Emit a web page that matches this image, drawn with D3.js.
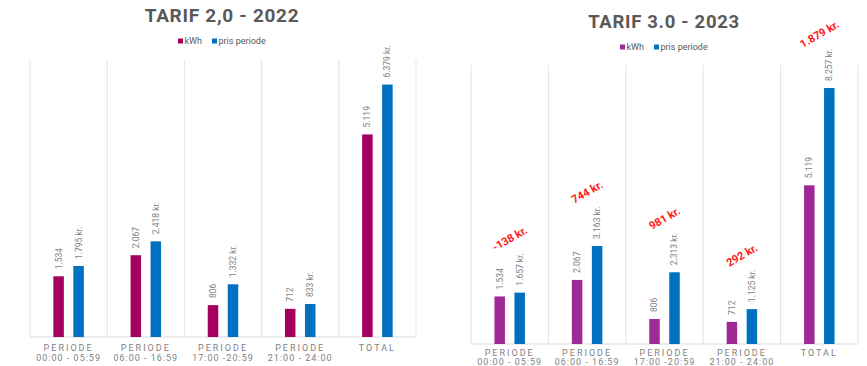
<!DOCTYPE html>
<html>
<head>
<meta charset="utf-8">
<script src="https://cdn.jsdelivr.net/npm/d3@7"></script>
<style>
  body { margin: 0; background: #fff; }
  svg { display: block; font-family: Roboto, "Liberation Sans", sans-serif; }
</style>
</head>
<body>
<div id="chart"></div>
<script>
// category tick labels (two lines each)
var categoryLines = [
    ["PERIODE", "00:00 - 05:59"],
    ["PERIODE", "06:00 - 16:59"],
    ["PERIODE", "17:00 -20:59"],
    ["PERIODE", "21:00 - 24:00"],
    ["TOTAL", ""]
];
var seriesNames = ["kWh", "pris periode"];

// Tarif 2,0 - 2022
var kwh2022 = [1534, 2067, 806, 712, 5119];
var pris2022 = [1795, 2418, 1332, 833, 6379];

// Tarif 3.0 - 2023
var kwh2023 = [1534, 2067, 806, 712, 5119];
var pris2023 = [1657, 3163, 2313, 1125, 8257];
var diff2023 = [-138, 744, 981, 292, 1879];

var dk = d3.formatLocale({decimal: ",", thousands: ".", grouping: [3], currency: ["", " kr."], minus: "-"});
var fmt = dk.format(",d");

var svg = d3.select("#chart")
    .append("svg")
    .attr("width", 867)
    .attr("height", 366);

function drawChart(opt) {
    var g = svg.append("g");

    var x = d3.scaleBand()
        .domain(d3.range(categoryLines.length))
        .range([opt.left, opt.right])
        .padding(0);

    var x1 = d3.scaleBand()
        .domain(seriesNames)
        .range([-15.25, 15.25])
        .paddingInner(0.475);

    var y = d3.scaleLinear()
        .domain([0, opt.yMax])
        .range([opt.bottom, opt.top]);

    // title
    g.append("text")
        .attr("x", opt.titleX)
        .attr("y", opt.titleY)
        .attr("text-anchor", "middle")
        .attr("font-size", opt.titleSize)
        .attr("font-weight", "bold")
        .attr("letter-spacing", "0.7px")
        .attr("fill", "#595959")
        .text(opt.title);

    // legend
    var legendX = [opt.titleX - 44, opt.titleX - 10];
    var legend = g.selectAll(".legend")
        .data(seriesNames)
        .enter()
        .append("g")
        .attr("transform", function (d, i) { return "translate(" + legendX[i] + "," + opt.legendY + ")"; });
    legend.append("rect")
        .attr("x", 0).attr("y", -2.5)
        .attr("width", 5).attr("height", 5)
        .attr("fill", function (d, i) { return opt.colors[i]; });
    legend.append("text")
        .attr("x", 6.5)
        .attr("dy", "0.35em")
        .attr("font-size", 9)
        .attr("fill", "#595959")
        .text(function (d) { return d; });

    // vertical gridlines at category borders
    var borders = d3.range(categoryLines.length + 1).map(function (i) {
        return i < categoryLines.length ? x(i) : opt.right;
    });
    g.selectAll(".grid")
        .data(borders)
        .enter()
        .append("line")
        .attr("x1", function (d) { return d; })
        .attr("x2", function (d) { return d; })
        .attr("y1", opt.top)
        .attr("y2", opt.bottom)
        .attr("stroke", "#e3e3e3")
        .attr("stroke-width", 1);

    // baseline
    g.append("line")
        .attr("x1", opt.left).attr("x2", opt.right)
        .attr("y1", opt.bottom).attr("y2", opt.bottom)
        .attr("stroke", "#d9d9d9");

    var rows = categoryLines.map(function (c, i) {
        return {i: i, kwh: opt.kwh[i], pris: opt.pris[i]};
    });

    var groups = g.selectAll(".cat")
        .data(rows)
        .enter()
        .append("g")
        .attr("transform", function (d) { return "translate(" + (x(d.i) + x.bandwidth() / 2) + ",0)"; });

    var bars = groups.selectAll("rect")
        .data(function (d) {
            return [
                {s: seriesNames[0], v: d.kwh, label: fmt(d.kwh), c: opt.colors[0]},
                {s: seriesNames[1], v: d.pris, label: fmt(d.pris) + " kr.", c: opt.colors[1]}
            ];
        })
        .enter();

    bars.append("rect")
        .attr("x", function (d) { return x1(d.s); })
        .attr("y", function (d) { return y(d.v); })
        .attr("width", x1.bandwidth())
        .attr("height", function (d) { return opt.bottom - y(d.v); })
        .attr("fill", function (d) { return d.c; });

    bars.append("text")
        .attr("transform", function (d) {
            return "translate(" + (x1(d.s) + x1.bandwidth() / 2) + "," + (y(d.v) - 7) + ") rotate(-90)";
        })
        .attr("dy", "0.35em")
        .attr("font-size", 8.5)
        .attr("fill", "#7f7f7f")
        .text(function (d) { return d.label; });

    // category labels
    var tick = g.selectAll(".tick")
        .data(categoryLines)
        .enter()
        .append("text")
        .attr("x", function (d, i) { return x(i) + x.bandwidth() / 2; })
        .attr("y", opt.tickY)
        .attr("text-anchor", "middle")
        .attr("font-size", 9)
        .attr("fill", "#7f7f7f");
    tick.append("tspan")
        .attr("x", function (d, i) { return x(i) + x.bandwidth() / 2; })
        .attr("letter-spacing", "2px")
        .text(function (d) { return d[0]; });
    tick.append("tspan")
        .attr("x", function (d, i) { return x(i) + x.bandwidth() / 2; })
        .attr("dy", opt.tickDy)
        .attr("letter-spacing", "1px")
        .text(function (d) { return d[1]; });

    // difference annotations
    if (opt.diff) {
        g.selectAll(".diff")
            .data(opt.diff)
            .enter()
            .append("text")
            .attr("transform", function (d, i) {
                return "translate(" + (x(i) + x.bandwidth() / 2) + "," + (y(opt.pris[i]) - 54) + ") rotate(-30)";
            })
            .attr("text-anchor", "middle")
            .attr("dy", "0.35em")
            .attr("font-size", 11)
            .attr("font-weight", "bold")
            .attr("fill", "#ff1a1a")
            .text(function (d) { return fmt(d) + " kr."; });
    }
}

drawChart({
    title: "TARIF 2,0 - 2022",
    titleX: 222, titleY: 22, titleSize: 19, legendY: 41,
    left: 30, right: 416, top: 60, bottom: 337, yMax: 7000,
    tickY: 351, tickDy: 10,
    kwh: kwh2022, pris: pris2022,
    colors: ["#a5005f", "#0070c0"]
});

drawChart({
    title: "TARIF 3.0 - 2023",
    titleX: 664, titleY: 28, titleSize: 18.5, legendY: 47,
    left: 471, right: 858, top: 65, bottom: 344, yMax: 9000,
    tickY: 356, tickDy: 9,
    kwh: kwh2023, pris: pris2023, diff: diff2023,
    colors: ["#9e2a97", "#0070c0"]
});
</script>
</body>
</html>
